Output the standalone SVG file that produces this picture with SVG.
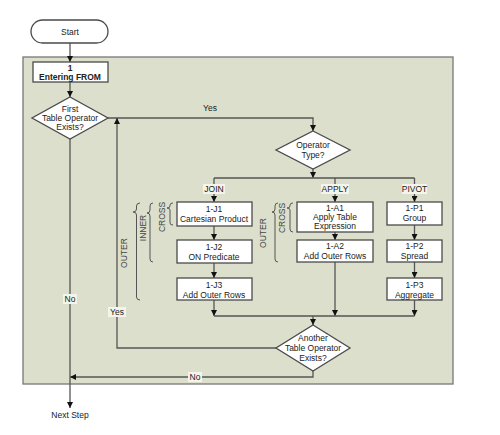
<svg xmlns="http://www.w3.org/2000/svg" width="500" height="435" viewBox="0 0 500 435">
<defs>
<marker id="ah" markerUnits="userSpaceOnUse" markerWidth="6" markerHeight="6" viewBox="0 0 6 6" refX="6" refY="3" orient="auto">
<path d="M0,0 L6,3 L0,6 z" fill="#111"/>
</marker>
<style>
text{font-family:"Liberation Sans",Arial,sans-serif;font-size:8.5px;fill:#222;text-anchor:middle}
.b{font-weight:bold}
.node{fill:#fff;stroke:#4a4a4a;stroke-width:1.3}
.ln{fill:none;stroke:#555;stroke-width:1.3}
.ar{marker-end:url(#ah)}
.br{fill:none;stroke:#555;stroke-width:1}
.bt{fill:#444}
.lb{fill:#f3f4ec}
</style>
</defs>
<rect width="500" height="435" fill="#fff"/>
<rect x="23" y="57" width="430" height="327" fill="#dcdfcc" stroke="#777" stroke-width="1.3"/>

<g id="connectors">
<path class="ln ar" d="M70,43 V62"/>
<path class="ln ar" d="M70,82 V97"/>
<path class="ln ar" d="M108,118 H313 V131"/>
<path class="ln ar" d="M313,169 V178"/>
<path class="ln" d="M214,178 H414.5"/>
<path class="ln ar" d="M214,178 V202"/>
<path class="ln ar" d="M335,178 V202"/>
<path class="ln ar" d="M414.5,178 V202"/>
<path class="ln ar" d="M214,226 V240"/>
<path class="ln ar" d="M214,263 V278"/>
<path class="ln ar" d="M335,232 V240"/>
<path class="ln ar" d="M414.5,225 V240"/>
<path class="ln ar" d="M414.5,262 V278"/>
<path class="ln ar" d="M214,300 V316"/>
<path class="ln ar" d="M335,262 V316"/>
<path class="ln ar" d="M414.5,300 V316"/>
<path class="ln" d="M214,316 H414.5"/>
<path class="ln ar" d="M313,316 V325"/>
<path class="ln ar" d="M276,348 H117 V118"/>
<path class="ln ar" d="M313,371 V377 H70"/>
<path class="ln ar" d="M70,139 V408"/>
<text x="210" y="111">Yes</text>
<rect class="lb" x="203" y="184" width="22" height="10"/>
<text x="214" y="192">JOIN</text>
<rect class="lb" x="321" y="184" width="28" height="10"/>
<text x="335" y="192">APPLY</text>
<rect class="lb" x="402" y="184" width="25" height="10"/>
<text x="414.5" y="192">PIVOT</text>
<rect class="lb" x="108" y="307" width="18" height="10"/>
<text x="117" y="315">Yes</text>
<rect class="lb" x="63" y="294" width="14" height="10"/>
<text x="70" y="302">No</text>
<rect class="lb" x="188" y="372" width="14" height="10"/>
<text x="195" y="380">No</text>
</g>

<g id="start">
<rect class="node" x="31" y="20" width="77" height="23" rx="11.5"/>
<text x="70" y="34.5">Start</text>
</g>
<g id="step1">
<rect class="node" x="33" y="62" width="75" height="20"/>
<text class="b" x="70" y="71">1</text>
<text class="b" x="70" y="80">Entering FROM</text>
</g>
<g id="first-exists">
<polygon class="node" points="70,97 108,118 70,139 32,118"/>
<text x="70" y="112">First</text>
<text x="70" y="121">Table Operator</text>
<text x="70" y="130">Exists?</text>
</g>
<g id="operator-type">
<polygon class="node" points="313,131 350,150 313,169 276,150"/>
<text x="313" y="148">Operator</text>
<text x="313" y="158">Type?</text>
</g>
<g id="j1">
<rect class="node" x="177" y="202" width="75" height="24"/>
<text x="214" y="212">1-J1</text>
<text x="214" y="222">Cartesian Product</text>
</g>
<g id="j2">
<rect class="node" x="177" y="240" width="75" height="23"/>
<text x="214" y="250">1-J2</text>
<text x="214" y="260">ON Predicate</text>
</g>
<g id="j3">
<rect class="node" x="177" y="278" width="75" height="22"/>
<text x="214" y="288">1-J3</text>
<text x="214" y="298">Add Outer Rows</text>
</g>
<g id="a1">
<rect class="node" x="297" y="202" width="76" height="30"/>
<text x="335" y="211">1-A1</text>
<text x="335" y="220">Apply Table</text>
<text x="335" y="229">Expression</text>
</g>
<g id="a2">
<rect class="node" x="297" y="240" width="76" height="22"/>
<text x="335" y="249">1-A2</text>
<text x="335" y="259">Add Outer Rows</text>
</g>
<g id="p1">
<rect class="node" x="387" y="202" width="55" height="23"/>
<text x="414.5" y="211">1-P1</text>
<text x="414.5" y="221">Group</text>
</g>
<g id="p2">
<rect class="node" x="387" y="240" width="55" height="22"/>
<text x="414.5" y="249">1-P2</text>
<text x="414.5" y="259">Spread</text>
</g>
<g id="p3">
<rect class="node" x="387" y="278" width="55" height="22"/>
<text x="414.5" y="288">1-P3</text>
<text x="414.5" y="298">Aggregate</text>
</g>
<g id="another-exists">
<polygon class="node" points="313,325 350,348 313,371 276,348"/>
<text x="313" y="341">Another</text>
<text x="313" y="351">Table Operator</text>
<text x="313" y="361">Exists?</text>
</g>
<g id="next-step">
<text x="70" y="418">Next Step</text>
</g>

<g id="braces">
<path class="br" d="M140,203 Q136.5,203 136.5,206 L136.5,209 Q136.5,212 133,212 Q136.5,212 136.5,215 L136.5,297 Q136.5,300 140,300"/>
<path class="br" d="M153,203 Q150,203 150,206 L150,210 Q150,213 147,213 Q150,213 150,216 L150,259 Q150,262 153,262"/>
<path class="br" d="M173,203 Q170,203 170,205 L170,206 Q170,208 167,208 Q170,208 170,210 L170,223 Q170,225 173,225"/>
<path class="br" d="M278,203 Q275,203 275,206 L275,209 Q275,212 272,212 Q275,212 275,215 L275,259 Q275,262 278,262"/>
<path class="br" d="M293,203 Q290,203 290,205 L290,206 Q290,208 287,208 Q290,208 290,210 L290,229 Q290,232 293,232"/>
<text class="bt" transform="translate(127,253) rotate(-90)">OUTER</text>
<text class="bt" transform="translate(146,228) rotate(-90)">INNER</text>
<text class="bt" transform="translate(165,217) rotate(-90)">CROSS</text>
<text class="bt" transform="translate(266,233) rotate(-90)">OUTER</text>
<text class="bt" transform="translate(285,218) rotate(-90)">CROSS</text>
</g>
</svg>
